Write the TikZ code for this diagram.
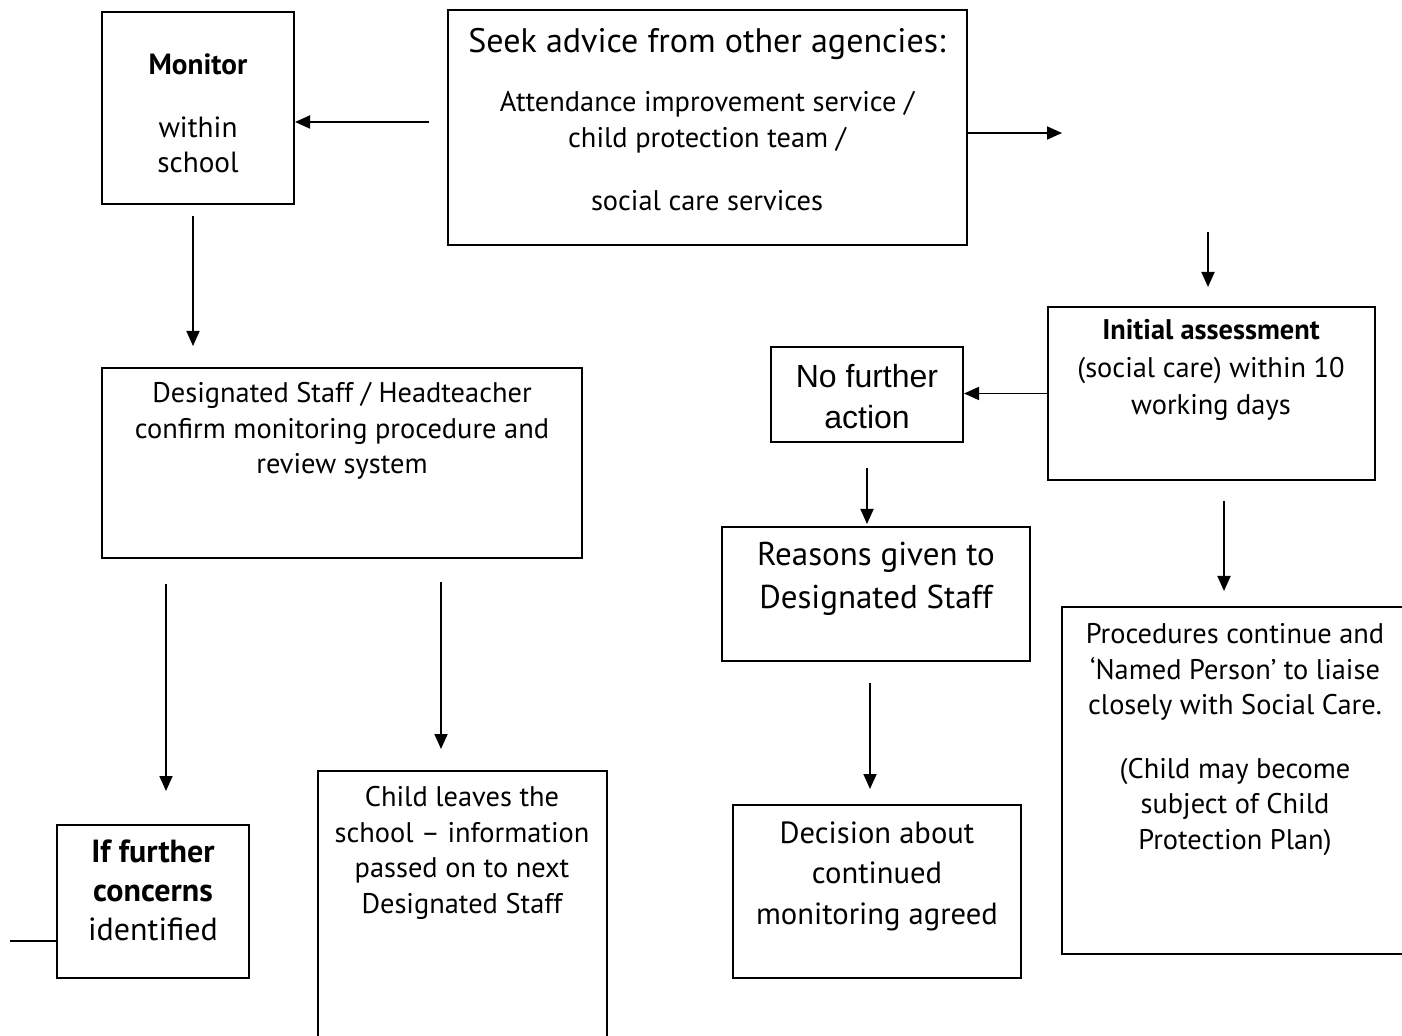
\documentclass[tikz,border=0pt]{standalone}
\usepackage{fontspec}
\setmainfont{PT Sans}
\newfontfamily\arialfont{Liberation Sans}
\usetikzlibrary{arrows.meta,positioning,fit,calc}

\tikzset{
  box/.style={draw, line width=1pt, inner sep=0pt},
  txt/.style={align=center, inner sep=0pt, anchor=base, font=\fontsize{14.2}{17.75}\selectfont},
  bigtxt/.style={txt, font=\fontsize{16.5}{21.5}\selectfont},
  midtxt/.style={txt, font=\fontsize{16}{19.5}\selectfont},
  arialtxt/.style={txt, font=\arialfont\fontsize{16}{20.5}\selectfont},
  flow/.style={-{Triangle[length=7.5pt,width=6.5pt]}, line width=0.9pt},
}

\begin{document}
\begin{tikzpicture}[x=0.5pt, y=-0.5pt]
    \useasboundingbox (0,0) rectangle (1402,1036);

    % boxes
    \node[box, fit={(102,12) (294,204)}] (mon) {};
    \node[box, fit={(448,10) (967,245)}] (seek) {};
    \node[box, fit={(102,368) (582,558)}] (dsg) {};
    \node[box, fit={(57,825) (249,978)}] (iff) {};
    \node[box, fit={(318,771) (607,1050)}] (chl) {};
    \node[box, fit={(771,347) (963,442)}] (nfa) {};
    \node[box, fit={(1048,307) (1375,480)}] (ini) {};
    \node[box, fit={(722,527) (1030,661)}] (rsn) {};
    \node[box, fit={(733,805) (1021,978)}] (dec) {};
    \node[box, fit={(1062,607) (1412,954)}] (prc) {};

    % texts (placed at the baseline of their last line)
    \node[txt, font=\fontsize{14.6}{17.75}\selectfont] (montxt) at (198,173) {\textbf{Monitor}\\[13.5pt] within\\school};
    \node[bigtxt, font=\fontsize{17}{21.5}\selectfont] (seekhd) at (707,53) {Seek advice from other agencies:};
    \node[txt] (seektxt) at (707,211) {Attendance improvement service /\\child protection team /\\[14pt] social care services};
    \node[txt] (dsgtxt) at (342,474) {Designated Staff / Headteacher\\confirm monitoring procedure and\\review system};
    \node[midtxt] (ifftxt) at (153,940) {\textbf{If further}\\\textbf{concerns}\\identified};
    \node[txt] (chltxt) at (462,913) {Child leaves the\\school – information\\passed on to next\\Designated Staff};
    \node[arialtxt] (nfatxt) at (867,429) {No further\\action};
    \node[txt, font=\fontsize{14.2}{18.75}\selectfont] (initxt) at (1211,415) {\textbf{Initial assessment}\\(social care) within 10\\working days};
    \node[bigtxt] (rsntxt) at (876,609) {Reasons given to\\Designated Staff};
    \node[midtxt, font=\fontsize{15.3}{20.25}\selectfont] (dectxt) at (877,924) {Decision about\\continued\\monitoring agreed};
    \node[txt] (prctxt) at (1235,849) {Procedures continue and\\‘Named Person’ to liaise\\closely with Social Care.\\[14pt](Child may become\\subject of Child\\Protection Plan)};

    % free ends
    \coordinate (rgt) at (1062,133);
    \coordinate (drop) at (1208,232);
    \coordinate (lft) at (10,941);

    % connectors
    \draw[flow, shorten <=9pt] ([yshift=2.75pt]seek.west) -- ([yshift=2.75pt]seek.west -| mon.east);
    \draw[flow] (seek.east |- rgt) -- (rgt);
    \draw[flow, shorten >=9.5pt] (drop) -- (drop |- ini.north);
    \draw[flow, shorten <=5.5pt, shorten >=10.5pt] ([xshift=-2.5pt]mon.south) -- ([xshift=-2.5pt]mon.south |- dsg.north);
    \draw[flow, shorten <=12.5pt, shorten >=16.5pt] (dsg.south -| 166,0) -- (iff.north -| 166,0);
    \draw[flow, shorten <=11.5pt, shorten >=10.5pt] (dsg.south -| 441,0) -- (chl.north -| 441,0);
    \draw[flow] (ini.west) -- (ini.west -| nfa.east);
    \draw[flow, shorten <=12.5pt, shorten >=1pt] (nfa.south) -- (nfa.south |- rsn.north);
    \draw[flow, shorten <=10.5pt, shorten >=7.5pt] (rsn.south -| 870,0) -- (dec.north -| 870,0);
    \draw[flow, shorten <=10pt, shorten >=7.5pt] (ini.south -| 1224,0) -- (prc.north -| 1224,0);
    \draw[line width=0.9pt] (iff.west |- lft) -- (lft);
\end{tikzpicture}
\end{document}
